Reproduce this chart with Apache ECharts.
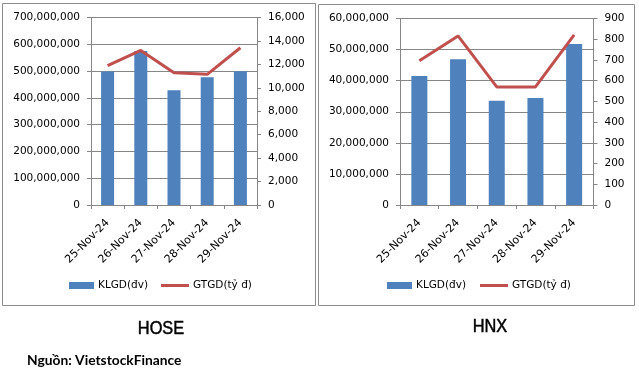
<!DOCTYPE html>
<html><head><meta charset="utf-8">
<script src="https://cdn.jsdelivr.net/npm/echarts@6/dist/echarts.min.js"></script>
<style>html,body{margin:0;padding:0;background:#fff}#c{width:639px;height:373px}</style>
</head><body><div id="c"></div>
<script>
const categories = ['25-Nov-24', '26-Nov-24', '27-Nov-24', '28-Nov-24', '29-Nov-24'];
const hoseVolume = [498000000, 575000000, 428000000, 477000000, 499000000];
const hoseValue = [11890, 13190, 11290, 11150, 13420];
const hnxVolume = [41500000, 46900000, 33500000, 34400000, 51800000];
const hnxValue = [696, 816, 570, 570, 821];
const seriesNames = ['KLGD(đv)', 'GTGD(tỷ đ)'];
const panelTitles = ['HOSE', 'HNX'];
const sourceText = 'Nguồn: VietstockFinance';

const FONT = 'DejaVu Sans';
const GRAY = '#868686';
const fmt = v => Number(v).toLocaleString('en-US');

function yAxis(gridIndex, max, interval, pos) {
  return {
    type: 'value', gridIndex, min: 0, max, interval, position: pos,
    axisLine: { show: true, lineStyle: { color: GRAY } },
    axisTick: { show: true, length: 4, lineStyle: { color: GRAY } },
    axisLabel: { margin: 11, fontFamily: FONT, fontSize: 10.5, color: '#000', formatter: fmt },
    splitLine: { show: pos === 'left', lineStyle: { color: GRAY } }
  };
}
function xAxis(gridIndex) {
  return {
    type: 'category', gridIndex, data: categories,
    axisLine: { show: true, lineStyle: { color: GRAY } },
    axisTick: { show: true, length: 4, lineStyle: { color: GRAY } },
    axisLabel: { rotate: 45, margin: 16, interval: 0, fontFamily: FONT, fontSize: 11, color: '#000' }
  };
}
function legend(name, left, w, h) {
  return {
    data: [{ name, icon: 'rect' }], left, top: 280, itemWidth: w, itemHeight: h,
    padding: 0, selectedMode: false,
    textStyle: { fontFamily: FONT, fontSize: 10.5, color: '#000', padding: [0, 0, 0, -1] }
  };
}
function titleText(text, x, y) {
  return {
    type: 'text', x, y, scaleX: 0.86, silent: true,
    style: { text, font: '19px "Liberation Sans", sans-serif', fill: '#000', stroke: '#000', lineWidth: 0.5,
      textAlign: 'center', textVerticalAlign: 'middle' }
  };
}

const chart = echarts.init(document.getElementById('c'), null, { renderer: 'canvas' });
chart.setOption({
  animation: false,
  backgroundColor: '#fff',
  grid: [
    { left: 91, top: 17.5, width: 166, height: 187.5 },
    { left: 400, top: 18.5, width: 193.5, height: 186.5 }
  ],
  xAxis: [xAxis(0), xAxis(1)],
  yAxis: [
    yAxis(0, 700000000, 100000000, 'left'),
    yAxis(0, 16000, 2000, 'right'),
    yAxis(1, 60000000, 10000000, 'left'),
    yAxis(1, 900, 100, 'right')
  ],
  legend: [
    legend(seriesNames[0], 69, 25, 7),
    legend(seriesNames[1], 161, 28, 3),
    legend(seriesNames[0], 387, 25, 7),
    legend(seriesNames[1], 480, 28, 3)
  ],
  series: [
    { name: seriesNames[0], type: 'bar', xAxisIndex: 0, yAxisIndex: 0, data: hoseVolume, barWidth: 13, itemStyle: { color: '#4F81BD' } },
    { name: seriesNames[1], type: 'line', xAxisIndex: 0, yAxisIndex: 1, data: hoseValue, symbol: 'none', lineStyle: { width: 3, color: '#C0504D' }, itemStyle: { color: '#C0504D' } },
    { name: seriesNames[0], type: 'bar', xAxisIndex: 1, yAxisIndex: 2, data: hnxVolume, barWidth: 16, itemStyle: { color: '#4F81BD' } },
    { name: seriesNames[1], type: 'line', xAxisIndex: 1, yAxisIndex: 3, data: hnxValue, symbol: 'none', lineStyle: { width: 3, color: '#C0504D' }, itemStyle: { color: '#C0504D' } }
  ],
  graphic: [
    { type: 'rect', silent: true, shape: { x: 2.5, y: 3.5, width: 313, height: 302 }, style: { fill: 'none', stroke: '#8c8c8c', lineWidth: 1 } },
    { type: 'rect', silent: true, shape: { x: 318.5, y: 4.5, width: 316, height: 301 }, style: { fill: 'none', stroke: '#8c8c8c', lineWidth: 1 } },
    titleText(panelTitles[0], 161, 329),
    titleText(panelTitles[1], 490, 327),
    { type: 'text', x: 27, y: 361, silent: true, style: { text: sourceText, font: 'bold 13.8px Lato, sans-serif', fill: '#000', textAlign: 'left', textVerticalAlign: 'middle' } }
  ]
});
</script></body></html>
